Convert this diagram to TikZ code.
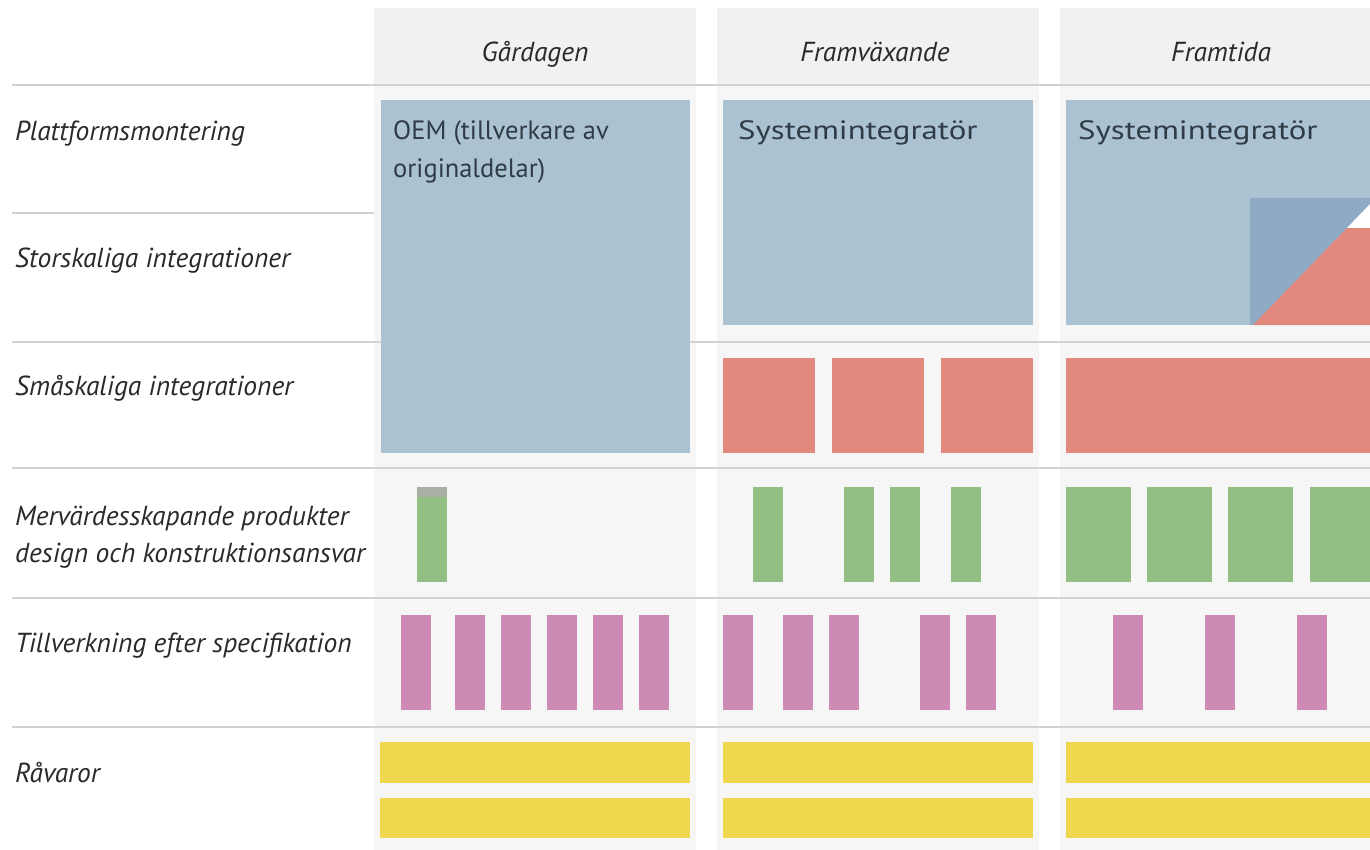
\documentclass[tikz,border=0pt]{standalone}
\usepackage{fontspec}
\setmainfont{PT Sans}
\definecolor{cblue}{HTML}{AAC2D1}
\definecolor{cdblue}{HTML}{8EAAC4}
\definecolor{cred}{HTML}{E2887D}
\definecolor{cgreen}{HTML}{93BF85}
\definecolor{cgreentop}{HTML}{A9B0A6}
\definecolor{cpink}{HTML}{CC8AB5}
\definecolor{cyellow}{HTML}{F0D84E}
\definecolor{cbg}{HTML}{F6F6F6}
\definecolor{chead}{HTML}{F1F1F1}
\definecolor{cline}{HTML}{D2D2D2}
\definecolor{ctext}{HTML}{2A2A2A}
\definecolor{cboxtext}{HTML}{2F3B47}
\newcommand{\widetext}[1]{\scalebox{1.24}[1]{#1}}
\tikzset{
  rowlabel/.style={anchor=base west, inner sep=0pt, text=ctext, font=\itshape\fontsize{27.5}{34}\selectfont},
  headlabel/.style={anchor=base, inner sep=0pt, text=ctext, font=\itshape\fontsize{27.5}{34}\selectfont},
  boxlabel/.style={anchor=base west, inner sep=0pt, text=cboxtext, font=\fontsize{26.5}{34}\selectfont},
  sepline/.style={draw=cline, line width=1.2pt},
  bluebox/.style={fill=cblue},
  redbox/.style={fill=cred},
  greenbox/.style={fill=cgreen},
  pinkbox/.style={fill=cpink},
  yellowbox/.style={fill=cyellow},
  colbg/.style={fill=cbg},
}
\begin{document}
\begin{tikzpicture}[x=1pt,y=-1pt]
\useasboundingbox (0,0) rectangle (1370,850);
\fill[white] (0,0) rectangle (1370,850);
% column backgrounds
\foreach \a/\b in {374/696,717/1039,1060/1370}{
  \fill[colbg] (\a,8) rectangle (\b,850);
  \fill[chead] (\a,8) rectangle (\b,84);
}
% separator lines
\draw[sepline] (12,85) -- (1370,85);
\draw[sepline] (12,213) -- (374,213);
\foreach \y in {342,468,598,727}{
  \draw[sepline] (12,\y) -- (1370,\y);
}
% headers
\node[headlabel] (h1) at (535,62) {Gårdagen};
\node[headlabel] (h2) at (875,62) {Framväxande};
\node[headlabel] (h3) at (1221,62) {Framtida};
% row labels
\node[rowlabel] (r1) at (15,141) {Plattformsmontering};
\node[rowlabel] (r2) at (15,268) {Storskaliga integrationer};
\node[rowlabel] (r3) at (15,395) {Småskaliga integrationer};
\node[rowlabel] (r4a) at (15,525) {Mervärdesskapande produkter};
\node[rowlabel] (r4b) at (15,562) {design och konstruktionsansvar};
\node[rowlabel] (r5) at (15,652) {Tillverkning efter specifikation};
\node[rowlabel] (r6) at (15,782) {Råvaror};
% blue boxes
\fill[bluebox] (381,100) rectangle (690,453);
\fill[bluebox] (723,100) rectangle (1033,325);
\fill[bluebox] (1066,100) rectangle (1370,325);
\fill[cdblue] (1250,198) rectangle (1370,325);
\fill[cred] (1253,325) -- (1347,228) -- (1370,228) -- (1370,325) -- cycle;
\fill[white] (1347,228) -- (1370,204) -- (1370,228) -- cycle;
\node[boxlabel] (t1a) at (393,140) {OEM (tillverkare av};
\node[boxlabel] (t1b) at (393,178) {originaldelar)};
\node[boxlabel] (t2) at (738,140) {\widetext{Systemintegratör}};
\node[boxlabel] (t3) at (1078,140) {\widetext{Systemintegratör}};
% red boxes
\foreach \a/\b in {723/815,832/924,941/1033,1066/1370}{
  \fill[redbox] (\a,358) rectangle (\b,453);
}
% green boxes
\fill[greenbox] (417,487) rectangle (447,582);
\fill[cgreentop] (417,487) rectangle (447,497);
\foreach \a/\b in {753/783,844/874,890/920,951/981,1066/1131,1147/1212,1228/1293,1310/1370}{
  \fill[greenbox] (\a,487) rectangle (\b,582);
}
% pink boxes
\foreach \a in {401,455,501,547,593,639,723,783,829,920,966,1113,1205,1297}{
  \fill[pinkbox] (\a,615) rectangle ({\a+30},710);
}
% yellow boxes
\foreach \a/\b in {380/690,723/1033,1066/1370}{
  \fill[yellowbox] (\a,742) rectangle (\b,783);
  \fill[yellowbox] (\a,798) rectangle (\b,838);
}
\end{tikzpicture}
\end{document}
